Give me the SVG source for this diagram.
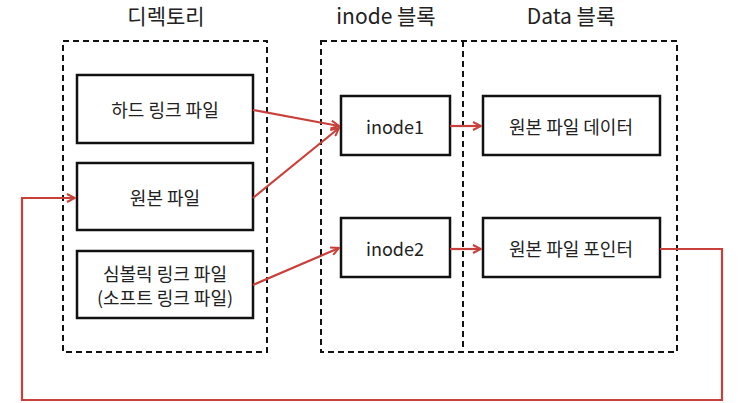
<svg xmlns="http://www.w3.org/2000/svg" width="739" height="403" viewBox="0 0 739 403">
<style>
.bg{fill:#fff}
.dash{fill:none;stroke:#111;stroke-width:2;stroke-dasharray:6,4}
.box{fill:#fff;stroke:#111;stroke-width:2.5}
.t{font-family:"Noto Sans CJK KR","Noto Sans",sans-serif;font-size:18px;fill:#222;text-anchor:middle;dominant-baseline:central}
.h{font-family:"Noto Sans CJK KR","Noto Sans",sans-serif;font-size:21px;fill:#222;text-anchor:middle;dominant-baseline:central}
.c{fill:none;stroke:#c9403a;stroke-width:2.2}
</style>
<defs>
<marker id="ah" viewBox="0 0 10 10" refX="9" refY="5" markerWidth="10" markerHeight="10" markerUnits="userSpaceOnUse" orient="auto">
<path d="M1,1 L9,5 L1,9" fill="none" stroke="#c9403a" stroke-width="2"/>
</marker>
</defs>
<rect class="bg" x="0" y="0" width="739" height="403"/>
<g id="titles">
<text class="h" x="166" y="15">디렉토리</text>
<text class="h" x="386" y="15">inode 블록</text>
<text class="h" x="571" y="15">Data 블록</text>
</g>
<g id="groups">
<rect class="dash" x="63" y="41" width="204" height="311"/>
<rect class="dash" x="321" y="41" width="356" height="311"/>
<line class="dash" x1="463" y1="41" x2="463" y2="352"/>
</g>
<g id="hardlink"><rect class="box" x="77" y="75" width="176" height="68"/><text class="t" x="165" y="109">하드 링크 파일</text></g>
<g id="original"><rect class="box" x="77" y="163" width="176" height="67"/><text class="t" x="165" y="197">원본 파일</text></g>
<g id="symlink"><rect class="box" x="77" y="251" width="176" height="67"/><text class="t" x="165" y="273">심볼릭 링크 파일</text><text class="t" x="165" y="297">(소프트 링크 파일)</text></g>
<g id="inode1"><rect class="box" x="341" y="96" width="109" height="59"/><text class="t" x="395" y="126">inode1</text></g>
<g id="inode2"><rect class="box" x="341" y="218" width="109" height="59"/><text class="t" x="395" y="248">inode2</text></g>
<g id="data"><rect class="box" x="483" y="96" width="177" height="59"/><text class="t" x="571" y="126">원본 파일 데이터</text></g>
<g id="pointer"><rect class="box" x="483" y="218" width="177" height="59"/><text class="t" x="571" y="248">원본 파일 포인터</text></g>
<g id="connectors">
<line class="c" x1="253" y1="110" x2="339" y2="126" marker-end="url(#ah)"/>
<line class="c" x1="253" y1="198" x2="339" y2="128" marker-end="url(#ah)"/>
<line class="c" x1="253" y1="285" x2="339" y2="248" marker-end="url(#ah)"/>
<line class="c" x1="450" y1="126" x2="481" y2="126" marker-end="url(#ah)"/>
<line class="c" x1="450" y1="249" x2="481" y2="249" marker-end="url(#ah)"/>
<polyline class="c" points="660,249 722,249 722,400 22,400 22,198 75,198" marker-end="url(#ah)"/>
</g>
</svg>
